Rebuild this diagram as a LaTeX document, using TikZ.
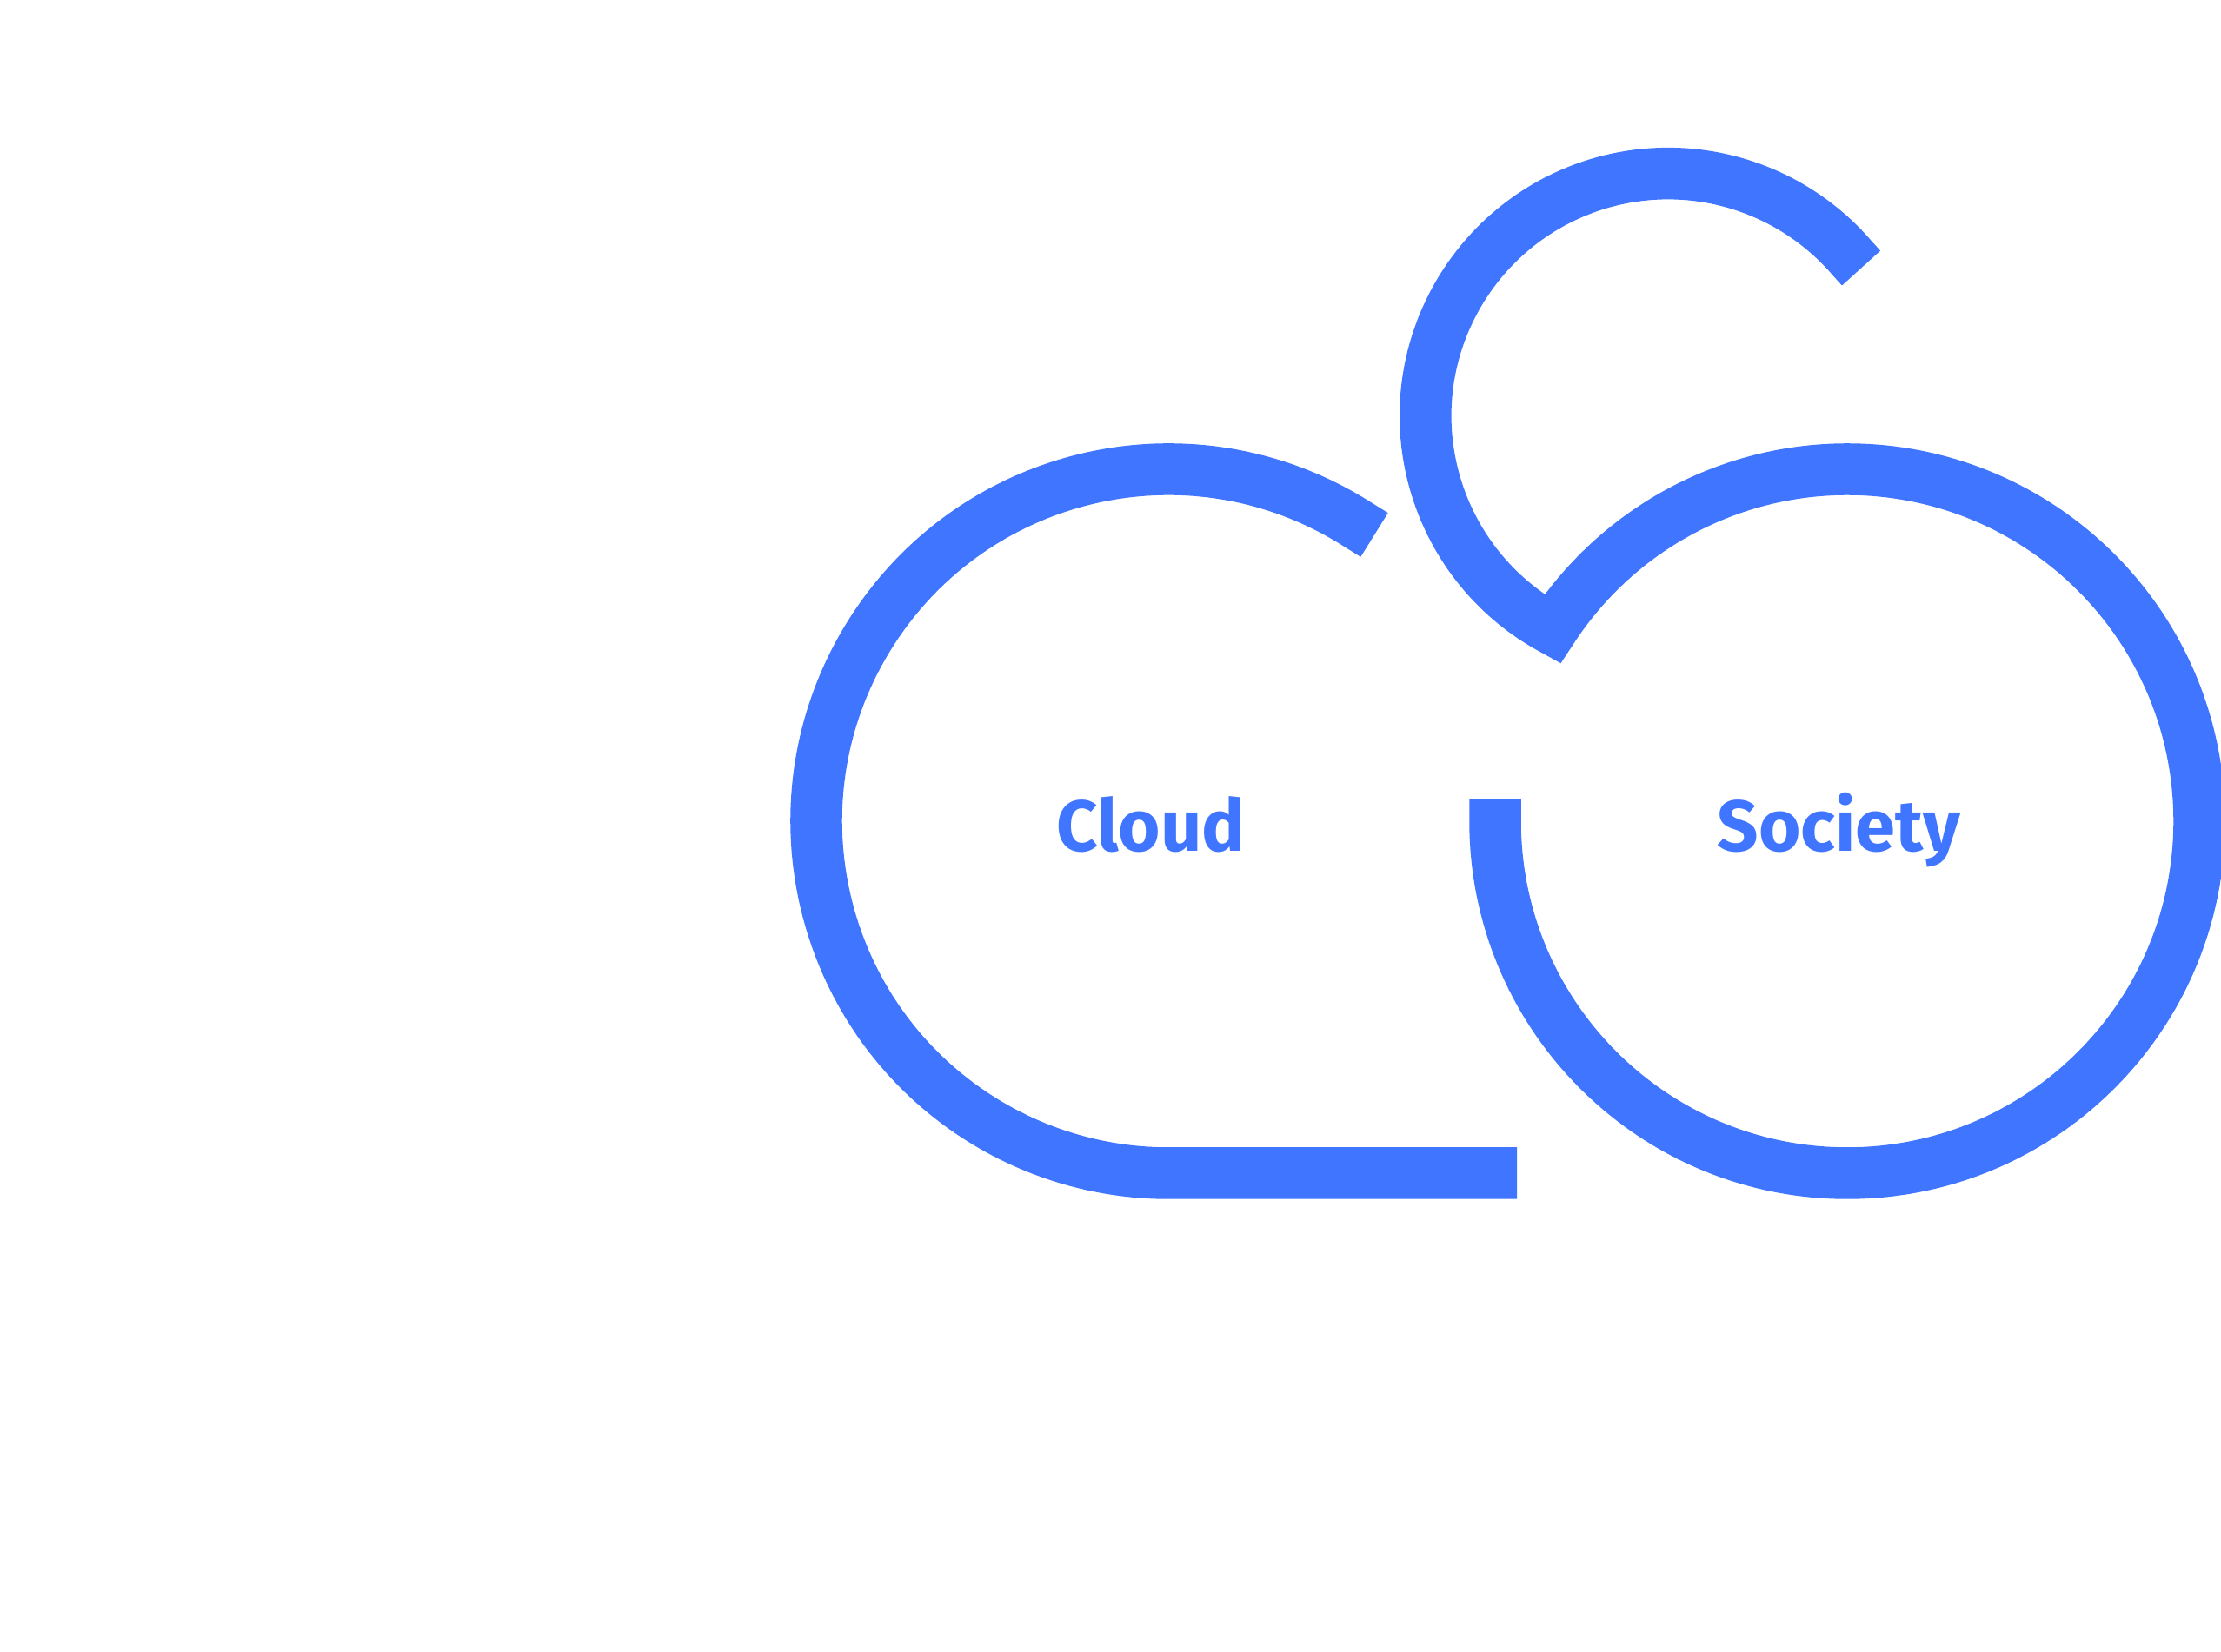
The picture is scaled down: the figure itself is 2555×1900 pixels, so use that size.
\documentclass[tikz,border=0pt]{standalone}
\usepackage{fontspec}
\setmainfont{Fira Sans}
\definecolor{ringblue}{HTML}{4075FF}
\tikzset{
ring/.style={draw=ringblue, line width=59.5pt, line cap=butt, line join=miter},
lbl/.style={text=ringblue, font=\fontsize{83}{83}\selectfont\bfseries, anchor=base, inner sep=0pt}
}
\begin{document}
\begin{tikzpicture}[x=1pt,y=1pt]
\useasboundingbox (0,0) rectangle (2555,1900);
\coordinate (cloudmid) at (1344,955);
\coordinate (cloudstart) at (1581,1284.5);
\coordinate (cloudend) at (1745,550);
\coordinate (societymid) at (2125,955);
\coordinate (societytop) at (1720,980);
\coordinate (societyleft) at (1720,955);
\coordinate (societyend) at (2141,1591.5);
\node[lbl] (cloud) at (1324,920){Cloud};
\node[lbl] (society) at (2115.5,920){Society};
\draw[ring] (cloudstart) -- ([shift={(57.6:405pt)}]cloudmid) arc[start angle=57.6, end angle=270, radius=405pt] -- (cloudend);
\draw[ring] (societytop) -- (societyleft) arc[start angle=180, end angle=506.9, radius=405pt] arc[start angle=241.5, end angle=40.6, radius=279pt] -- (societyend);
\end{tikzpicture}
\end{document}
